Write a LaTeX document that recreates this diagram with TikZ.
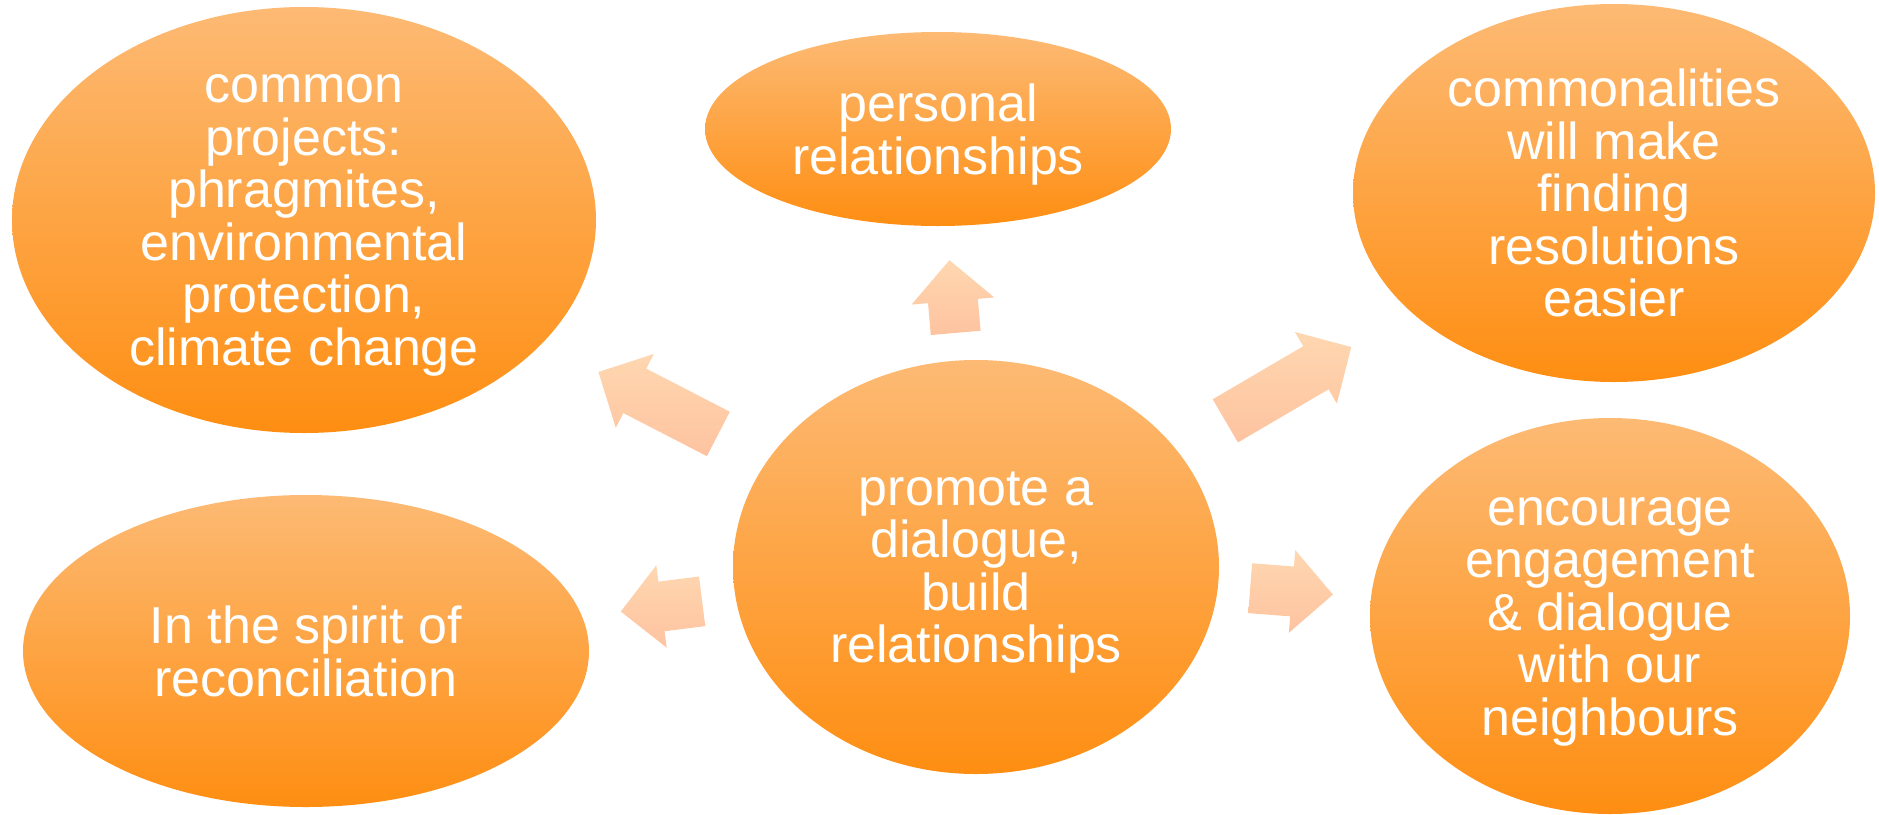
\documentclass[tikz,border=0pt]{standalone}
\usepackage{fontspec}
\setmainfont{Liberation Sans}
\usepackage{tikz}
\usetikzlibrary{shapes.geometric,calc}
\definecolor{ovaltop}{HTML}{FDBA74}
\definecolor{ovalbot}{HTML}{FE8E12}
\definecolor{arrtop}{HTML}{FED7B0}
\definecolor{arrbot}{HTML}{FEC3A0}
\tikzset{ovalnode/.style={shape=ellipse,inner sep=0pt,text depth=0pt,top color=ovaltop,bottom color=ovalbot,text=white,align=center,font=\fontsize{52}{52.5}\selectfont}}
\tikzset{blockarr/.style={top color=arrtop,bottom color=arrbot}}
% block arrow on the line from #1 to #2, tail and tip at #3 and #4 from #1
\newcommand{\blockarrow}[4]{%
	\coordinate (tail) at ($(#1)!#3pt!(#2)$);
	\coordinate (tip) at ($(#1)!#4pt!(#2)$);
	\coordinate (head) at ($(tip)!41pt!(tail)$);
	\path[blockarr] ($(tail)!25pt!90:(tip)$) -- ($(head)!25pt!90:(tip)$) -- ($(head)!41.5pt!90:(tip)$) -- (tip)
	-- ($(head)!41.5pt!-90:(tip)$) -- ($(head)!25pt!-90:(tip)$) -- ($(tail)!25pt!-90:(tip)$) -- cycle;
}

\begin{document}
\begin{tikzpicture}[x=1pt,y=-1pt]
	\useasboundingbox (0,0) rectangle (1879,814);
	\node[ovalnode,minimum width=584pt,minimum height=426pt] (C) at (304,220) {common\\projects:\\phragmites,\\environmental\\protection,\\climate change};
	\node[ovalnode,minimum width=466pt,minimum height=194pt] (P) at (938,129) {personal\\relationships};
	\node[ovalnode,minimum width=522pt,minimum height=378pt] (R) at (1614,193) {commonalities\\will make\\finding\\resolutions\\easier};
	\node[ovalnode,minimum width=486pt,minimum height=414pt] (D) at (976,567) {promote a\\dialogue,\\build\\relationships};
	\node[ovalnode,minimum width=566pt,minimum height=312pt] (S) at (306,651) {In the spirit of\\reconciliation};
	\node[ovalnode,minimum width=480pt,minimum height=396pt] (E) at (1610,616) {encourage\\engagement\\\& dialogue\\with our\\neighbours};
	%
	\blockarrow{D}{P}{235}{308}
	\blockarrow{D}{C}{290}{425}
	\blockarrow{D}{R}{289}{435}
	\blockarrow{D}{S}{276}{358}
	\blockarrow{D}{E}{275}{358}
\end{tikzpicture}
\end{document}
